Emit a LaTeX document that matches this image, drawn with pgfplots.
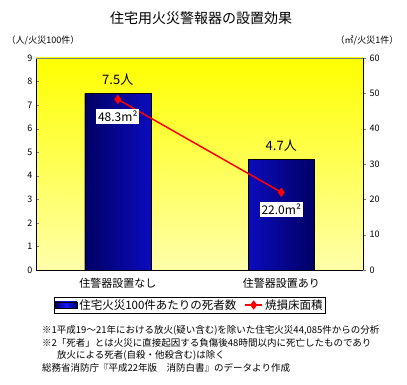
\documentclass[border=0pt]{standalone}
\usepackage{fontspec}
\setmainfont{Noto Sans CJK JP}
\usepackage{pgfplots}
\pgfplotsset{compat=1.18}
\pgfplotsset{/pgf/number format/assume math mode=true}
\definecolor{navy}{RGB}{0,0,100}
\definecolor{brightblue}{RGB}{20,20,255}
\definecolor{paleyellow}{RGB}{255,255,170}
\newcommand{\fs}[1]{\fontsize{#1}{#1}\selectfont}
\begin{document}
\begin{tikzpicture}
\useasboundingbox (0,0) rectangle (407pt,385pt);
\fill[white] (0,0) rectangle (407pt,385pt);
% title and unit labels
\node[font=\fs{14}] at (201pt,367pt) {住宅用火災警報器の設置効果};
\node[font=\fs{9}] at (43pt,345pt) {（人/火災100件）};
\node[font=\fs{9}] at (367pt,345pt) {（㎡/火災1件）};

\begin{axis}[
  at={(36pt,115pt)}, anchor=south west,
  scale only axis, width=327pt, height=212pt,
  xmin=-0.5, xmax=1.5, ymin=0, ymax=9,
  ytick={0,1,...,9},
  xtick={0,1}, xticklabels={住警器設置なし,住警器設置あり},
  x tick label style={font=\fs{11}, yshift=-2pt},
  y tick label style={font=\fs{9}},
  major x tick style={draw=none},
  axis y line*=left, axis x line*=bottom,
  axis line style={black, line width=0.8pt},
  tick align=inside, major tick length=3pt,
  y axis line style={-}, x axis line style={-},
  axis background/.style={shade, top color=yellow, bottom color=paleyellow},
  ybar, bar width=0.404,
  nodes near coords={\pgfmathprintnumber[fixed,precision=1,fixed zerofill]{\pgfplotspointmeta}人},
  every node near coord/.append style={font=\fs{13}, yshift=4pt, black},
  clip=false,
]
\addplot[draw=black, left color=navy, right color=navy, middle color=brightblue] coordinates {(0,7.5) (1,4.7)};
\draw[gray] (rel axis cs:0,1) -- (rel axis cs:1,1);
\end{axis}

\begin{axis}[
  at={(36pt,115pt)}, anchor=south west,
  scale only axis, width=327pt, height=212pt,
  xmin=-0.5, xmax=1.5, ymin=0, ymax=60,
  ytick={0,10,...,60},
  axis x line=none, axis y line*=right,
  axis line style={black, line width=0.8pt},
  y axis line style={-},
  y tick label style={font=\fs{9}},
  tick align=outside, major tick length=3pt,
  clip=false,
  legend columns=2,
  legend style={at={(0.47,-0.165)}, anchor=center, draw=black, fill=white,
    font=\fs{11.5}, inner sep=0.5pt,
    /tikz/every even column/.append style={column sep=6pt}},
]
\addlegendimage{legend image code/.code={\draw[black, left color=navy, right color=navy, middle color=brightblue] (0pt,-3pt) rectangle (22pt,3pt);}}
\addlegendentry{住宅火災100件あたりの死者数}
\addplot[red, line width=1.5pt, mark=diamond*, mark size=3.5pt, mark options={fill=red},
  nodes near coords={\pgfmathprintnumber[fixed,precision=1,fixed zerofill]{\pgfplotspointmeta}m²},
  every node near coord/.style={anchor=north, fill=white, text=black, font=\fs{12}, yshift=-9pt, inner sep=2pt}]
  coordinates {(0,48.3) (1,22.0)};
\addlegendentry{焼損床面積}
\end{axis}

% footnotes
\begin{scope}[every node/.style={anchor=west, font=\fs{9.5}, inner sep=0pt}]
\node at (42pt,55pt) {※1平成19～21年における放火(疑い含む)を除いた住宅火災44,085件からの分析};
\node at (42pt,42pt) {※2「死者」とは火災に直接起因する負傷後48時間以内に死亡したものであり};
\node at (57pt,30pt) {放火による死者(自殺・他殺含む)は除く};
\node at (42pt,17pt) {総務省消防庁『平成22年版　消防白書』のデータより作成};
\end{scope}
\end{tikzpicture}
\end{document}
